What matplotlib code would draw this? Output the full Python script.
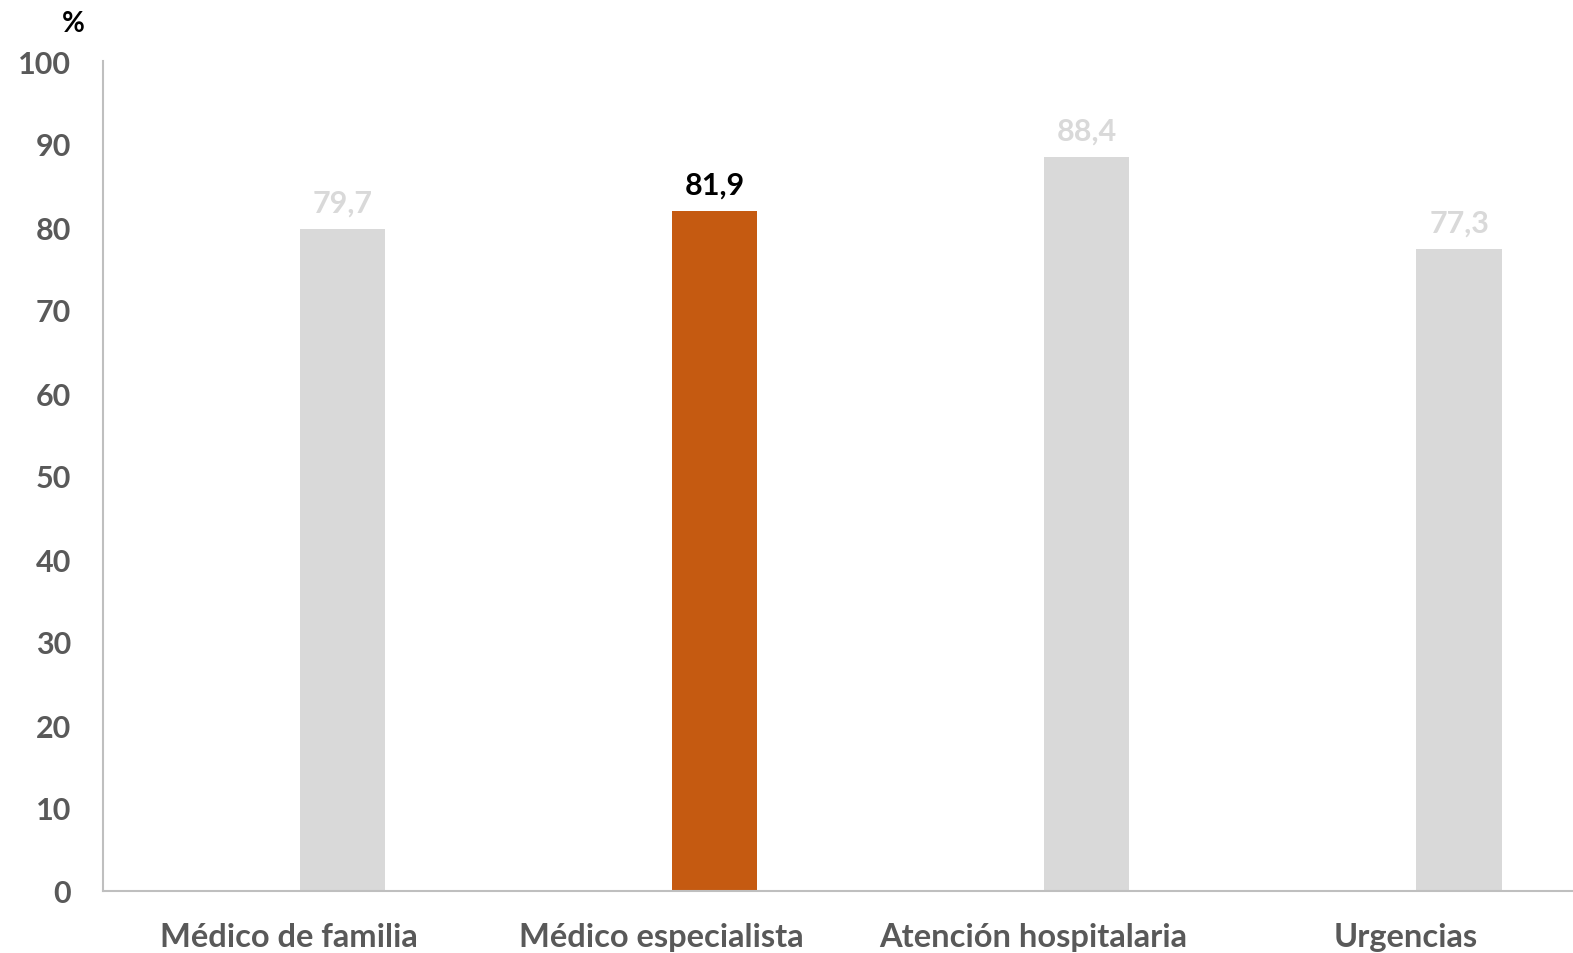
import numpy as np
import matplotlib.pyplot as plt

# datos
categorias = ['Médico de familia', 'Médico especialista', 'Atención hospitalaria', 'Urgencias']
valores = [79.7, 81.9, 88.4, 77.3]
destacado = 1
ticks_y = [0, 10, 20, 30, 40, 50, 60, 70, 80, 90, 100]

gris = '#d9d9d9'
naranja = '#c55a11'
texto = '#595959'

plt.rcParams['font.family'] = ['Lato', 'DejaVu Sans']

fig = plt.figure(figsize=(15.73, 9.54), dpi=100)
# los ejes se salen un poco por la derecha, como en el original recortado
ax = fig.add_axes([103 / 1573, 62 / 954, 1489 / 1573, 830 / 954])

x = np.arange(len(categorias))
desplaz = 0.143
colores = [naranja if i == destacado else gris for i in range(len(valores))]
barras = ax.bar(x + desplaz, valores, width=0.229, color=colores)

for i, (b, v) in enumerate(zip(barras, valores)):
    col = 'black' if i == destacado else gris
    ax.annotate(f'{v:.1f}'.replace('.', ','), (b.get_x() + b.get_width() / 2, v),
                xytext=(0, 9), textcoords='offset points', ha='center', va='bottom',
                fontsize=22, fontweight='bold', color=col)

ax.set_xlim(-0.5, 3.5)
ax.set_ylim(0, 100)
ax.set_yticks(ticks_y)
ax.set_xticks(x)
ax.set_xticklabels(categorias)
ax.tick_params(axis='y', length=0, pad=23, labelsize=22, labelcolor=texto)
ax.tick_params(axis='x', length=0, pad=22, labelsize=23.5, labelcolor=texto)
for t in ax.get_xticklabels() + ax.get_yticklabels():
    t.set_fontweight('bold')

for s in ['top', 'right']:
    ax.spines[s].set_visible(False)
for s in ['left', 'bottom']:
    ax.spines[s].set_color('#bfbfbf')
    ax.spines[s].set_linewidth(1.5)

fig.text(73 / 1573, 1 - 24 / 954, '%', ha='center', va='center',
         fontsize=20, fontweight='bold', color='black')

fig.savefig('out.png', dpi=100)
